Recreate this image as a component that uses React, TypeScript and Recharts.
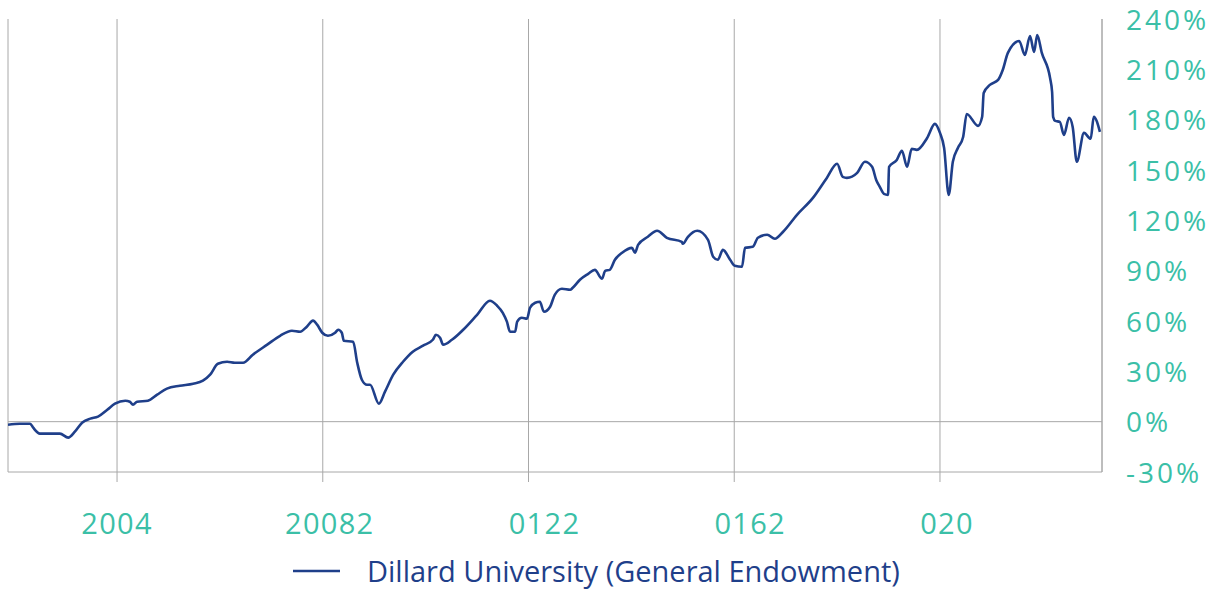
import React from 'react';
import { LineChart, Line, XAxis, YAxis, CartesianGrid, ReferenceLine, Legend } from 'recharts';

const seriesName = 'Dillard University (General Endowment)';

const times = [
  2001.88, 2002.11, 2002.31, 2002.37, 2002.5, 2002.7, 2002.89, 2003.05, 2003.18, 2003.32,
  2003.48, 2003.63, 2003.81, 2003.96, 2004.16, 2004.25, 2004.31, 2004.39, 2004.6, 2004.78,
  2004.97, 2005.22, 2005.48, 2005.67, 2005.81, 2005.96, 2006.14, 2006.29, 2006.45, 2006.64,
  2006.92, 2007.17, 2007.4, 2007.56, 2007.69, 2007.81, 2007.89, 2007.99, 2008.1, 2008.24,
  2008.3, 2008.37, 2008.41, 2008.59, 2008.67, 2008.76, 2008.86, 2008.92, 2009.09, 2009.21,
  2009.37, 2009.56, 2009.75, 2009.95, 2010.14, 2010.2, 2010.28, 2010.34, 2010.51, 2010.73,
  2011.0, 2011.25, 2011.39, 2011.5, 2011.58, 2011.64, 2011.74, 2011.78, 2011.87, 2011.97,
  2012.03, 2012.13, 2012.22, 2012.3, 2012.42, 2012.51, 2012.65, 2012.81, 2012.86, 2013.0,
  2013.16, 2013.29, 2013.43, 2013.49, 2013.58, 2013.68, 2013.82, 2014.01, 2014.07, 2014.13,
  2014.32, 2014.5, 2014.69, 2014.98, 2015.0, 2015.1, 2015.28, 2015.49, 2015.59, 2015.68,
  2015.78, 2015.92, 2016.01, 2016.15, 2016.21, 2016.36, 2016.46, 2016.64, 2016.79, 2016.95,
  2017.22, 2017.53, 2017.8, 2018.0, 2018.11, 2018.19, 2018.39, 2018.54, 2018.68, 2018.76,
  2018.83, 2018.91, 2018.99, 2019.01, 2019.16, 2019.26, 2019.36, 2019.45, 2019.55, 2019.75,
  2019.9, 2020.0, 2020.08, 2020.17, 2020.25, 2020.35, 2020.45, 2020.52, 2020.74, 2020.82,
  2020.85, 2020.97, 2021.13, 2021.22, 2021.32, 2021.54, 2021.65, 2021.75, 2021.83, 2021.89,
  2021.98, 2022.14, 2022.18, 2022.2, 2022.24, 2022.33, 2022.41, 2022.51, 2022.58, 2022.66,
  2022.8, 2022.93, 2022.99, 2023.11,
];

const returnsPct = [
  -1.8, -1.2, -1.2, -3.6, -7.1, -7.1, -7.1, -9.5, -6.0, -0.6,
  1.8, 3.0, 7.1, 10.7, 12.5, 11.9, 10.1, 11.9, 12.5, 16.1,
  19.7, 21.4, 22.6, 24.4, 28.0, 34.5, 35.7, 35.1, 35.1, 39.9,
  45.9, 51.2, 54.2, 53.6, 56.6, 60.2, 57.8, 53.0, 51.2, 53.0,
  54.8, 53.0, 48.2, 47.6, 35.1, 25.0, 22.0, 22.0, 10.7, 17.9,
  28.0, 35.7, 41.7, 45.3, 48.8, 51.8, 50.0, 45.9, 48.8, 54.8,
  63.7, 72.1, 69.1, 64.9, 59.6, 53.6, 53.6, 59.6, 61.9, 61.3,
  67.9, 70.9, 71.5, 65.5, 68.5, 75.6, 79.2, 78.6, 79.8, 84.6,
  88.1, 90.5, 85.2, 89.9, 90.5, 96.5, 100.7, 103.6, 100.7, 105.4,
  110.2, 113.8, 109.6, 107.2, 106.0, 110.2, 113.8, 108.4, 98.3, 96.5,
  102.4, 96.5, 92.9, 92.3, 103.6, 104.2, 109.6, 111.4, 109.0, 113.2,
  123.3, 133.4, 145.3, 153.7, 145.9, 145.3, 148.3, 154.9, 151.9, 144.1,
  140.0, 135.8, 135.2, 151.9, 156.0, 161.4, 151.9, 162.6, 162.0, 169.1,
  177.5, 172.1, 163.2, 135.2, 154.9, 163.2, 169.7, 183.4, 176.3, 181.7,
  195.9, 200.7, 203.7, 209.6, 219.8, 226.9, 218.6, 229.9, 220.4, 230.5,
  219.8, 204.9, 196.5, 181.7, 179.3, 178.7, 170.9, 181.1, 175.7, 154.9,
  172.1, 168.6, 181.7, 172.7,
];

const xTicks = [2004, 2008, 2012, 2016, 2020];
const xTickLabels = ['2004', '20082', '0122', '0162', '020'];
const yTicks = [-30, 0, 30, 60, 90, 120, 150, 180, 210, 240];

const data = times.map((t, i) => ({ t, v: returnsPct[i] }));

const TEAL = '#3bbfa7';
const BLUE = '#1f3f8a';
const GRID = '#a8a8a8';
const FONT = '"Open Sans", "Noto Sans", sans-serif';
const labelShift = [0, 7, 16, 16, 7];

const XTick = (props: any) => {
  const { x, y, payload } = props;
  const i = xTicks.indexOf(payload.value);
  const label = i >= 0 ? xTickLabels[i] : '';
  const dx = i >= 0 ? labelShift[i] : 0;
  return (
    <text x={x + dx} y={y + 50} textAnchor="middle" fill={TEAL} fontSize={29} fontFamily={FONT} letterSpacing={1.3}>
      {label}
    </text>
  );
};

const YTick = (props: any) => {
  const { x, y, payload } = props;
  return (
    <text x={x} y={y + 10.5} textAnchor="start" fill={TEAL} fontSize={28} fontFamily={FONT} letterSpacing={3}>
      {`${payload.value}%`}
    </text>
  );
};

const LegendContent = () => (
  <div style={{ display: 'flex', alignItems: 'center', height: 40, lineHeight: '40px' }}>
    <svg width={47} height={6} style={{ display: 'block' }}>
      <line x1={0} y1={3} x2={47} y2={3} stroke={BLUE} strokeWidth={2.5} />
    </svg>
    <span style={{ marginLeft: 27, color: BLUE, fontSize: 29, fontFamily: FONT, whiteSpace: 'nowrap' }}>
      {seriesName}
    </span>
  </div>
);

export default function App() {
  return (
    <div style={{ position: 'absolute', left: 0, top: 0, width: 1217, height: 592, background: '#fff' }}>
      <LineChart width={1217} height={592} data={data} margin={{ top: 19, right: 0, bottom: 0, left: 8 }}>
        <CartesianGrid horizontal={false} vertical stroke={GRID} strokeWidth={1} />
        <XAxis
          dataKey="t"
          type="number"
          domain={[2001.88, 2023.15]}
          ticks={xTicks}
          interval={0}
          height={120}
          axisLine={{ stroke: GRID }}
          tickLine={{ stroke: GRID }}
          tickSize={10}
          tick={<XTick />}
          allowDataOverflow
        />
        <YAxis
          orientation="right"
          domain={[-30, 240]}
          ticks={yTicks}
          interval={0}
          width={115}
          axisLine={{ stroke: GRID }}
          tickLine={false}
          tickSize={6}
          tickMargin={18}
          tick={<YTick />}
          allowDataOverflow
        />
        <ReferenceLine y={0} stroke={GRID} strokeWidth={1} />
        <Line
          type="monotone"
          dataKey="v"
          name={seriesName}
          stroke={BLUE}
          strokeWidth={2.6}
          dot={false}
          activeDot={false}
          isAnimationActive={false}
        />
        <Legend
          layout="horizontal"
          verticalAlign="middle"
          align="center"
          wrapperStyle={{ top: 551, left: 293, width: 700, height: 40 }}
          content={<LegendContent />}
        />
      </LineChart>
    </div>
  );
}
